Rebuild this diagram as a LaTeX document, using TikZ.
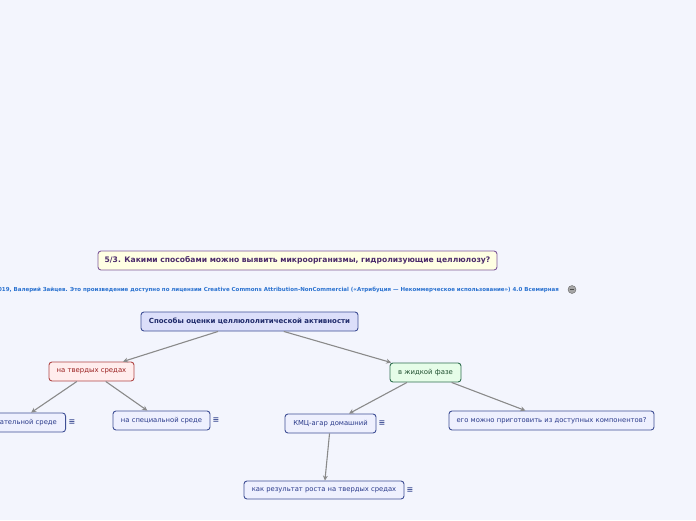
\documentclass[tikz,border=0pt]{standalone}
\usepackage{fontspec}
\setmainfont{DejaVu Sans}
\usetikzlibrary{arrows.meta,calc}
\definecolor{bgc}{HTML}{F3F5FD}
\definecolor{titlefill}{HTML}{FFFFE3}
\definecolor{titledraw}{HTML}{7F5A9A}
\definecolor{titletext}{HTML}{4A2A6A}
\definecolor{mainfill}{HTML}{DCDFFA}
\definecolor{maindraw}{HTML}{3F4F95}
\definecolor{maintext}{HTML}{1F2A6A}
\definecolor{redfill}{HTML}{FFEDED}
\definecolor{reddraw}{HTML}{B04848}
\definecolor{redtext}{HTML}{9A2020}
\definecolor{greenfill}{HTML}{E6FDE8}
\definecolor{greendraw}{HTML}{2F6F4F}
\definecolor{greentext}{HTML}{1F4F2F}
\definecolor{leaffill}{HTML}{EEF0FE}
\definecolor{leaftext}{HTML}{2A3A8A}
\definecolor{edgec}{HTML}{8A8A8A}
\definecolor{lictext}{HTML}{2A72D0}
\tikzset{
  x=1pt, y=-1pt,
  box/.style={draw, rounded corners=3pt, line width=0.9pt, inner sep=0pt, align=center, minimum height=19pt},
  titlebox/.style={box, fill=titlefill, draw=titledraw, text=titletext, font=\fontsize{7.6}{9}\selectfont\bfseries},
  mainbox/.style={box, fill=mainfill, draw=maindraw, text=maintext, font=\fontsize{7}{8}\selectfont\bfseries},
  redbox/.style={box, fill=redfill, draw=reddraw, text=redtext, font=\fontsize{6.9}{8}\selectfont},
  greenbox/.style={box, fill=greenfill, draw=greendraw, text=greentext, font=\fontsize{6.9}{8}\selectfont},
  leafbox/.style={box, fill=leaffill, draw=maindraw, text=leaftext, font=\fontsize{6.8}{8}\selectfont},
  noteicon/.style={text=maindraw, font=\fontsize{8}{8}\selectfont\bfseries, inner sep=0pt},
  edge/.style={draw=edgec, line width=1.1pt, -{Stealth[length=5pt,width=5pt]}}
}
\begin{document}
\begin{tikzpicture}
\useasboundingbox (0,0) rectangle (696,520);
\fill[bgc] (0,0) rectangle (696,520);
\clip (0,0) rectangle (696,520);

\node[titlebox, minimum width=399pt] (title) at (297.5,260.5) {5/3. Какими способами можно выявить микроорганизмы, гидролизующие целлюлозу?};

\node[anchor=east, text=lictext, font=\fontsize{5.5}{6}\selectfont\bfseries, inner sep=0pt] (lic) at (559,289.5) {© 2019, Валерий Зайцев. Это произведение доступно по лицензии Creative Commons Attribution-NonCommercial («Атрибуция — Некоммерческое использование») 4.0 Всемирная};
\node[circle, fill=gray!70, draw=gray!80!black, line width=0.4pt, minimum size=8pt, inner sep=0pt] (licicon) at (572,289.5) {};
\draw[line width=1pt, black!70] ($(licicon.center)+(-2,0)$) -- ($(licicon.center)+(2,0)$);

\node[mainbox, minimum width=217pt] (main) at (249.5,321.5) {Способы оценки целлюлолитической активности};

\node[redbox, minimum width=85pt] (solid) at (91.5,371.5) {на твердых средах};
\node[greenbox, minimum width=71pt] (liquid) at (425.5,372.5) {в жидкой фазе};

\node[leafbox, minimum width=98pt, anchor=east] (nutr) at (66,422.5) {на питательной среде};
\node[noteicon] (nutri) at (72,422.5) {≡};
\node[leafbox, minimum width=97pt] (spec) at (161.5,420.5) {на специальной среде};
\node[noteicon] (speci) at (216,420.5) {≡};
\node[leafbox, minimum width=91pt] (kmc) at (330.5,423.5) {КМЦ-агар домашний};
\node[noteicon] (kmci) at (382,423.5) {≡};
\node[leafbox, minimum width=205pt] (comp) at (551.5,420.5) {его можно приготовить из доступных компонентов?};
\node[leafbox, minimum width=160pt, minimum height=18pt] (res) at (324,490) {как результат роста на твердых средах};
\node[noteicon] (resi) at (410,490) {≡};

\draw[edge] (main) -- (solid);
\draw[edge] (main) -- (liquid);
\draw[edge] (solid) -- (nutr);
\draw[edge] (solid) -- (spec);
\draw[edge] (liquid) -- (kmc);
\draw[edge] (liquid) -- (comp);
\draw[edge] (kmc) -- (res);
\end{tikzpicture}
\end{document}
